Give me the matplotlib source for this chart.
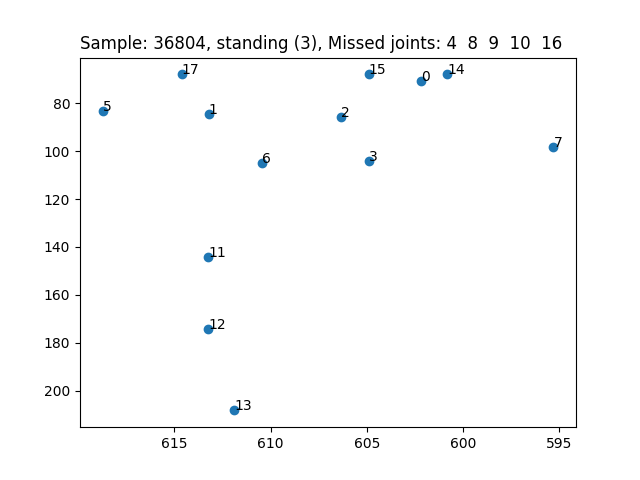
import matplotlib
matplotlib.use("Agg")
import matplotlib.pyplot as plt

joints = [0, 1, 2, 3, 5, 6, 7, 11, 12, 13, 14, 15, 17]
xs = [602.19, 613.21, 606.32, 604.91, 618.73, 610.47, 595.30, 613.23, 613.23, 611.875, 600.83, 604.91, 614.62]
ys = [70.8, 84.5, 85.9, 104.0, 83.3, 105.1, 98.4, 144.0, 174.1, 208.3, 67.9, 67.9, 67.9]
missed = [4, 8, 9, 10, 16]

fig, ax = plt.subplots(figsize=(6.4, 4.8), dpi=100)
ax.scatter(xs, ys)
for j, x, y in zip(joints, xs, ys):
    ax.annotate(str(j), (x, y))
ax.invert_xaxis()
ax.invert_yaxis()
ax.set_title("Sample: 36804, standing (3), Missed joints: " + "  ".join(str(m) for m in missed), loc="left")
fig.savefig("out.png")
